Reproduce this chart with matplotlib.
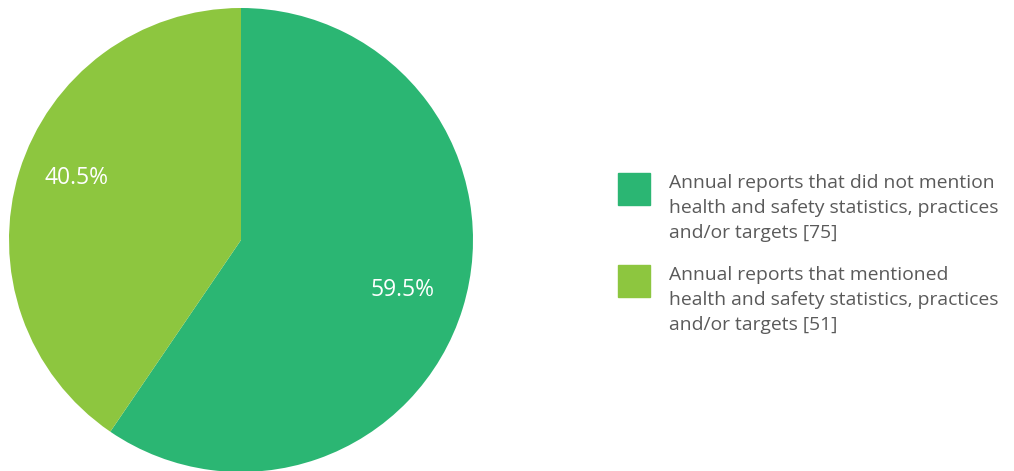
import matplotlib.pyplot as plt
from matplotlib.patches import Rectangle

# data
labels = ['Annual reports that did not mention\nhealth and safety statistics, practices\nand/or targets [75]',
          'Annual reports that mentioned\nhealth and safety statistics, practices\nand/or targets [51]']
values = [75, 51]
colors = ['#2bb673', '#8dc63f']

W, H = 1014, 471
plt.rcParams['font.family'] = ['Open Sans', 'DejaVu Sans']

fig = plt.figure(figsize=(W / 100, H / 100), dpi=100)

# pie axes placed in pixels: centre (241, 240), radius 232
cx, cy, r = 241, 240, 232
ax = fig.add_axes([(cx - r) / W, (H - cy - r) / H, 2 * r / W, 2 * r / H])
wedges, texts, autotexts = ax.pie(values, colors=colors, startangle=90, counterclock=False,
                                  autopct='%1.1f%%', pctdistance=0.73,
                                  wedgeprops=dict(linewidth=0))
for t in autotexts:
    t.set_color('white')
    t.set_fontsize(16.5)
# nudge the smaller label up a bit like the original
x, y = autotexts[1].get_position()
autotexts[1].set_position((x - 0.01, y + 0.05))
ax.set_xlim(-1, 1)
ax.set_ylim(-1, 1)
ax.set_aspect('equal')
ax.axis('off')

# legend drawn by hand
tops = [173, 265]
for lab, col, top in zip(labels, colors, tops):
    fig.patches.append(Rectangle((618 / W, (H - top - 32) / H), 32 / W, 32 / H,
                                 transform=fig.transFigure, color=col))
    fig.text(669 / W, (H - top - 1) / H, lab, ha='left', va='top', fontsize=13.9,
             color='#5a5a5a', linespacing=1.5)

fig.savefig('out.png', dpi=100)
